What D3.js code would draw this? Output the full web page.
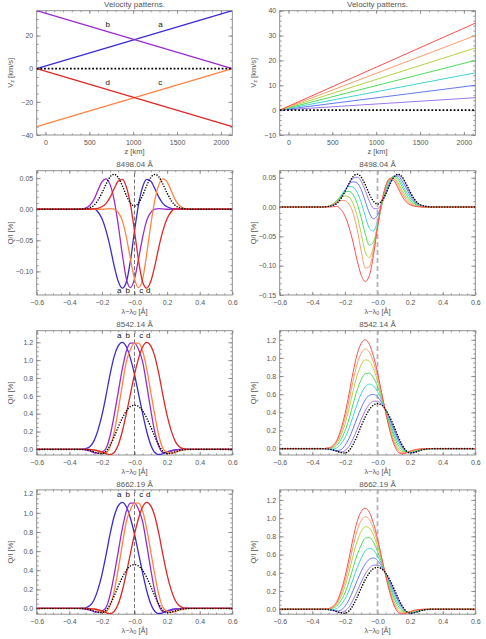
<!DOCTYPE html>
<html>
<head>
<meta charset="utf-8">
<script src="https://cdn.jsdelivr.net/npm/d3@7"></script>
<style>
  body { margin: 0; background: #fff; }
  svg { display: block; }
  text { font-family: "Liberation Sans", Arial, sans-serif; }
  .tick text { fill: #555; font-size: 7px; font-family: "Liberation Sans", Arial, sans-serif; }
  .tick line { stroke: #808080; stroke-width: 0.8; }
  .ttl { fill: #555; font-size: 8px; }
  .axl { fill: #555; font-size: 7.5px; }
  .lab { fill: #111; font-size: 8px; }
</style>
</head>
<body>
<div id="chart"></div>
<script>
// wavelength grid shared by every Q/I profile (offset from line centre, Å)
var WL = [-0.6, -0.35, -0.325, -0.3, -0.275, -0.25, -0.225, -0.2, -0.175, -0.15, -0.125, -0.1, -0.075, -0.05, -0.025,
  0, 0.025, 0.05, 0.075, 0.1, 0.125, 0.15, 0.175, 0.2, 0.225, 0.25, 0.275, 0.3, 0.325, 0.35, 0.6];

// velocity models: V_z [km/s] at bottom and top of the atmosphere
var Z_KM = [-100, 2130];
var VZ_REF = [0, 0];
var VZ_A = [0, 35];
var VZ_B = [35, 0];
var VZ_C = [-35, 0];
var VZ_D = [0, -35];
var VZ_RAMP = [[0, 5], [0, 10], [0, 15], [0, 20], [0, 25], [0, 30], [0, 35]];

// labels
var ABCD = ["a", "b", "c", "d"];
var TOP_LABEL_Z = [1310, 710, 1310, 710];
var TOP_LABEL_V = [25, 25, -10, -10];
var PROF_LABEL_X = [-0.093, -0.042, 0.042, 0.085];
var Z_TICKS = [0, 500, 1000, 1500, 2000];
var Z_TICK_LABELS = ["0", "500", "1000", "1500", "2000"];
var WL_TICKS = [-0.6, -0.4, -0.2, 0, 0.2, 0.4, 0.6];
var WL_TICK_LABELS = ["\u22120.6", "\u22120.4", "\u22120.2", "\u22120.0", "0.2", "0.4", "0.6"];

// 8498.04 Å  Q/I [%]
var Q8498_REF = [0, 0, 0.0003, 0.001, 0.0025, 0.006, 0.014, 0.026, 0.040, 0.052, 0.056, 0.051, 0.038, 0.022, 0.010, 0.005, 0.010, 0.022, 0.038, 0.051, 0.056, 0.052, 0.040, 0.026, 0.014, 0.006, 0.0025, 0.001, 0.0003, 0, 0];
var Q8498_A = [0, 0, 0, 0, 0.0005, 0.001, -0.004, -0.015, -0.034, -0.060, -0.091, -0.116, -0.127, -0.117, -0.083, -0.035, 0.008, 0.036, 0.048, 0.045, 0.033, 0.019, 0.009, 0.004, 0.0015, 0.0005, 0, 0, 0, 0, 0];
var Q8498_B = [0, 0, 0.0005, 0.002, 0.006, 0.015, 0.030, 0.044, 0.049, 0.040, 0.015, -0.025, -0.072, -0.112, -0.126, -0.112, -0.080, -0.045, -0.018, -0.005, 0, 0.001, 0.0005, 0, 0, 0, 0, 0, 0, 0, 0];
var Q8498_C = [0, 0, 0, 0, 0, 0, 0, 0, 0.0005, 0.001, 0, -0.005, -0.018, -0.045, -0.080, -0.112, -0.126, -0.112, -0.072, -0.025, 0.015, 0.040, 0.049, 0.044, 0.030, 0.015, 0.006, 0.002, 0.0005, 0, 0];
var Q8498_D = [0, 0, 0, 0, 0, 0.0005, 0.0015, 0.004, 0.009, 0.019, 0.033, 0.045, 0.048, 0.036, 0.008, -0.035, -0.083, -0.117, -0.127, -0.116, -0.091, -0.060, -0.034, -0.015, -0.004, 0.001, 0.0005, 0, 0, 0, 0];
var Q8498_V5 = [0, 0, 0.0003, 0.001, 0.003, 0.007, 0.015, 0.027, 0.040, 0.049, 0.051, 0.044, 0.028, 0.010, -0.002, -0.003, 0.006, 0.021, 0.038, 0.051, 0.055, 0.050, 0.038, 0.024, 0.013, 0.006, 0.0025, 0.001, 0.0003, 0, 0];
var Q8498_V10 = [0, 0, 0.0003, 0.001, 0.003, 0.008, 0.016, 0.028, 0.039, 0.043, 0.041, 0.030, 0.010, -0.010, -0.020, -0.014, 0.004, 0.024, 0.041, 0.052, 0.053, 0.045, 0.033, 0.020, 0.010, 0.004, 0.0015, 0.0005, 0, 0, 0];
var Q8498_V15 = [0, 0, 0.0003, 0.001, 0.004, 0.010, 0.019, 0.029, 0.035, 0.034, 0.025, 0.008, -0.015, -0.036, -0.041, -0.024, 0.003, 0.027, 0.044, 0.053, 0.050, 0.040, 0.027, 0.016, 0.008, 0.003, 0.001, 0.0003, 0, 0, 0];
var Q8498_V20 = [0, 0, 0.0003, 0.0015, 0.005, 0.011, 0.019, 0.025, 0.027, 0.021, 0.006, -0.018, -0.046, -0.065, -0.060, -0.032, 0.002, 0.030, 0.047, 0.052, 0.047, 0.035, 0.022, 0.012, 0.006, 0.002, 0.0007, 0.0002, 0, 0, 0];
var Q8498_V25 = [0, 0, 0.0003, 0.0015, 0.005, 0.010, 0.016, 0.019, 0.017, 0.006, -0.015, -0.045, -0.077, -0.086, -0.068, -0.033, 0.004, 0.033, 0.048, 0.050, 0.042, 0.029, 0.017, 0.009, 0.004, 0.0015, 0.0005, 0, 0, 0, 0];
var Q8498_V30 = [0, 0, 0.0003, 0.001, 0.004, 0.008, 0.011, 0.011, 0.005, -0.010, -0.038, -0.075, -0.104, -0.102, -0.074, -0.034, 0.006, 0.035, 0.049, 0.048, 0.038, 0.024, 0.013, 0.006, 0.0025, 0.001, 0, 0, 0, 0, 0];

// 8542.14 Å  Q/I [%]
var Q8542_REF = [0, 0, -0.001, -0.005, -0.013, -0.028, -0.043, -0.048, -0.022, 0.045, 0.14, 0.25, 0.35, 0.43, 0.48, 0.495, 0.48, 0.43, 0.35, 0.25, 0.14, 0.045, -0.022, -0.048, -0.043, -0.028, -0.013, -0.005, -0.001, 0, 0];
var Q8542_A = [0, 0, 0.002, 0.008, 0.03, 0.09, 0.21, 0.38, 0.60, 0.84, 1.04, 1.16, 1.20, 1.15, 1.02, 0.84, 0.62, 0.40, 0.20, 0.05, -0.035, -0.058, -0.048, -0.028, -0.013, -0.005, -0.001, 0, 0, 0, 0];
var Q8542_B = [0, 0, -0.001, -0.006, -0.018, -0.035, -0.042, -0.030, 0.01, 0.15, 0.38, 0.64, 0.90, 1.10, 1.19, 1.19, 1.12, 0.98, 0.72, 0.44, 0.19, 0.03, -0.035, -0.038, -0.022, -0.009, -0.003, 0, 0, 0, 0];
var Q8542_C = [0, 0, 0, 0, -0.003, -0.009, -0.022, -0.038, -0.035, 0.03, 0.19, 0.44, 0.72, 0.98, 1.12, 1.19, 1.19, 1.10, 0.90, 0.64, 0.38, 0.15, 0.01, -0.030, -0.042, -0.035, -0.018, -0.006, -0.001, 0, 0];
var Q8542_D = [0, 0, 0, 0, -0.001, -0.005, -0.013, -0.028, -0.048, -0.058, -0.035, 0.05, 0.20, 0.40, 0.62, 0.84, 1.02, 1.15, 1.20, 1.16, 1.04, 0.84, 0.60, 0.38, 0.21, 0.09, 0.03, 0.008, 0.002, 0, 0];
var Q8542_V5 = [0, 0, -0.002, -0.005, -0.014, -0.030, -0.038, -0.022, 0.024, 0.109, 0.212, 0.323, 0.418, 0.488, 0.523, 0.523, 0.491, 0.428, 0.338, 0.234, 0.126, 0.037, -0.024, -0.046, -0.041, -0.026, -0.012, -0.005, -0.001, 0, 0];
var Q8542_V10 = [0, 0, -0.001, -0.005, -0.013, -0.022, -0.012, 0.035, 0.112, 0.220, 0.338, 0.450, 0.537, 0.588, 0.599, 0.571, 0.511, 0.423, 0.317, 0.206, 0.102, 0.022, -0.028, -0.044, -0.036, -0.023, -0.010, -0.004, -0.001, 0, 0];
var Q8542_V15 = [0, 0, 0, -0.002, -0.004, 0.008, 0.050, 0.119, 0.221, 0.355, 0.491, 0.605, 0.682, 0.711, 0.691, 0.630, 0.535, 0.418, 0.292, 0.172, 0.072, 0.005, -0.032, -0.040, -0.031, -0.019, -0.008, -0.003, 0, 0, 0];
var Q8542_V20 = [0, 0, 0.001, 0.002, 0.011, 0.038, 0.099, 0.192, 0.326, 0.490, 0.644, 0.760, 0.826, 0.833, 0.782, 0.688, 0.558, 0.413, 0.266, 0.138, 0.042, -0.013, -0.037, -0.037, -0.026, -0.015, -0.006, -0.002, 0, 0, 0];
var Q8542_V25 = [0, 0, 0.001, 0.005, 0.019, 0.059, 0.144, 0.269, 0.438, 0.633, 0.806, 0.923, 0.979, 0.963, 0.880, 0.750, 0.584, 0.408, 0.239, 0.102, 0.011, -0.031, -0.041, -0.033, -0.021, -0.011, -0.004, -0.001, 0, 0, 0];
var Q8542_V30 = [0, 0, 0.002, 0.006, 0.025, 0.076, 0.180, 0.329, 0.525, 0.745, 0.932, 1.051, 1.098, 1.064, 0.955, 0.799, 0.603, 0.404, 0.218, 0.074, -0.014, -0.046, -0.045, -0.030, -0.017, -0.008, -0.002, 0, 0, 0, 0];

// 8662.19 Å  Q/I [%]
var Q8662_REF = [0, 0, -0.001, -0.005, -0.012, -0.026, -0.040, -0.044, -0.020, 0.042, 0.130, 0.231, 0.324, 0.398, 0.444, 0.458, 0.444, 0.398, 0.324, 0.231, 0.130, 0.042, -0.020, -0.044, -0.040, -0.026, -0.012, -0.005, -0.001, 0, 0];
var Q8662_A = [0, 0, 0.002, 0.007, 0.028, 0.083, 0.194, 0.352, 0.555, 0.777, 0.962, 1.073, 1.110, 1.064, 0.944, 0.777, 0.574, 0.370, 0.185, 0.046, -0.032, -0.054, -0.044, -0.026, -0.012, -0.005, -0.001, 0, 0, 0, 0];
var Q8662_B = [0, 0, -0.001, -0.006, -0.017, -0.032, -0.039, -0.028, 0.009, 0.139, 0.352, 0.592, 0.833, 1.018, 1.101, 1.101, 1.036, 0.907, 0.666, 0.407, 0.176, 0.028, -0.032, -0.035, -0.020, -0.008, -0.003, 0, 0, 0, 0];
var Q8662_C = [0, 0, 0, 0, -0.003, -0.008, -0.020, -0.035, -0.032, 0.028, 0.176, 0.407, 0.666, 0.907, 1.036, 1.101, 1.101, 1.018, 0.833, 0.592, 0.352, 0.139, 0.009, -0.028, -0.039, -0.032, -0.017, -0.006, -0.001, 0, 0];
var Q8662_D = [0, 0, 0, 0, -0.001, -0.005, -0.012, -0.026, -0.044, -0.054, -0.032, 0.046, 0.185, 0.370, 0.574, 0.777, 0.944, 1.064, 1.110, 1.073, 0.962, 0.777, 0.555, 0.352, 0.194, 0.083, 0.028, 0.007, 0.002, 0, 0];
var Q8662_V5 = [0, 0, -0.002, -0.005, -0.013, -0.028, -0.035, -0.020, 0.022, 0.101, 0.196, 0.299, 0.387, 0.451, 0.484, 0.484, 0.454, 0.396, 0.313, 0.216, 0.117, 0.034, -0.022, -0.043, -0.038, -0.024, -0.011, -0.005, -0.001, 0, 0];
var Q8662_V10 = [0, 0, -0.001, -0.005, -0.012, -0.020, -0.011, 0.032, 0.104, 0.204, 0.313, 0.416, 0.497, 0.548, 0.562, 0.535, 0.473, 0.391, 0.293, 0.191, 0.094, 0.020, -0.026, -0.041, -0.033, -0.021, -0.009, -0.004, -0.001, 0, 0];
var Q8662_V15 = [0, 0, 0, -0.002, -0.004, 0.007, 0.046, 0.110, 0.204, 0.328, 0.454, 0.560, 0.640, 0.668, 0.648, 0.583, 0.495, 0.387, 0.270, 0.159, 0.067, 0.005, -0.030, -0.037, -0.029, -0.018, -0.007, -0.003, 0, 0, 0];
var Q8662_V20 = [0, 0, 0.001, 0.002, 0.010, 0.035, 0.092, 0.178, 0.302, 0.453, 0.596, 0.703, 0.780, 0.787, 0.735, 0.636, 0.516, 0.382, 0.246, 0.128, 0.039, -0.012, -0.034, -0.034, -0.024, -0.014, -0.006, -0.002, 0, 0, 0];
var Q8662_V25 = [0, 0, 0.001, 0.005, 0.018, 0.055, 0.133, 0.249, 0.405, 0.586, 0.746, 0.854, 0.906, 0.891, 0.814, 0.694, 0.540, 0.377, 0.221, 0.094, 0.010, -0.029, -0.038, -0.031, -0.019, -0.010, -0.004, -0.001, 0, 0, 0];
var Q8662_V30 = [0, 0, 0.002, 0.006, 0.023, 0.070, 0.167, 0.304, 0.486, 0.689, 0.862, 0.972, 1.016, 0.984, 0.883, 0.739, 0.558, 0.374, 0.202, 0.068, -0.013, -0.043, -0.042, -0.028, -0.016, -0.007, -0.002, 0, 0, 0, 0];

var ABCD_COLORS = ["#3a2ad4", "#9a2ccc", "#ff8443", "#e02626"];
var RAMP_COLORS = ["#9a78e6", "#6478f5", "#42d2d2", "#4cdc5c", "#b4d244", "#fb9c6c", "#fa5050"];

var W = 486, H = 639;
var colX = [36.7, 279.7];
var rowY = [10.7, 170.7, 330.7, 489.9];
var pw = 195.6, ph = 124.3;

var svg = d3.select("#chart").append("svg")
    .attr("width", W)
    .attr("height", H);

function minorTicks(domain, step) {
  var lo = Math.ceil(domain[0] / step - 1e-9), hi = Math.floor(domain[1] / step + 1e-9);
  return d3.range(lo, hi + 1).map(function(i) { return +(i * step).toFixed(6); });
}

function panel(col, row, o) {
  var g = svg.append("g")
      .attr("transform", "translate(" + colX[col] + "," + rowY[row] + ")");

  var x = d3.scaleLinear().domain(o.xDomain).range([0, pw]);
  var y = d3.scaleLinear().domain(o.yDomain).range([ph, 0]);

  var id = "clip" + col + "_" + row;
  g.append("clipPath").attr("id", id)
    .append("rect").attr("width", pw).attr("height", ph);

  var xMin = minorTicks(o.xDomain, o.xMinor);
  var yMin = minorTicks(o.yDomain, o.yMinor);

  // ticks on all four sides, pointing inward (IDL style)
  g.append("g").attr("transform", "translate(0," + ph + ")")
      .call(d3.axisBottom(x).tickValues(xMin).tickSize(-1.6).tickSizeOuter(0).tickFormat(""));
  g.append("g").attr("transform", "translate(0," + ph + ")")
      .call(d3.axisBottom(x).tickValues(o.xTicks).tickSize(-3.2).tickSizeOuter(0).tickPadding(4.8)
        .tickFormat(function(d, i) { return o.xLabels[i]; }));
  g.append("g")
      .call(d3.axisTop(x).tickValues(xMin).tickSize(-1.6).tickSizeOuter(0).tickFormat(""));
  g.append("g")
      .call(d3.axisTop(x).tickValues(o.xTicks).tickSize(-3.2).tickSizeOuter(0).tickFormat(""));

  g.append("g")
      .call(d3.axisLeft(y).tickValues(yMin).tickSize(-2).tickSizeOuter(0).tickFormat(""));
  g.append("g")
      .call(d3.axisLeft(y).tickValues(o.yTicks).tickSize(-4).tickSizeOuter(0).tickPadding(3.5)
        .tickFormat(d3.format(o.yFormat)));
  g.append("g").attr("transform", "translate(" + pw + ",0)")
      .call(d3.axisRight(y).tickValues(yMin).tickSize(-2).tickSizeOuter(0).tickFormat(""));
  g.append("g").attr("transform", "translate(" + pw + ",0)")
      .call(d3.axisRight(y).tickValues(o.yTicks).tickSize(-4).tickSizeOuter(0).tickFormat(""));

  g.selectAll(".domain").remove();

  g.append("rect")
      .attr("width", pw).attr("height", ph)
      .attr("fill", "none").attr("stroke", "#858585").attr("stroke-width", 0.9);

  g.append("text").attr("class", "ttl")
      .attr("x", pw / 2).attr("y", -3.4)
      .attr("text-anchor", "middle")
      .text(o.title);

  var xl = g.append("text").attr("class", "axl")
      .attr("x", pw / 2).attr("y", ph + 18.6)
      .attr("text-anchor", "middle");
  o.xTitle(xl);

  var yl = g.append("text").attr("class", "axl")
      .attr("transform", "translate(-24.2," + (ph / 2) + ") rotate(-90)")
      .attr("text-anchor", "middle");
  o.yTitle(yl);

  var plot = g.append("g").attr("clip-path", "url(#" + id + ")");
  return { g: g, plot: plot, x: x, y: y };
}

function vzTitle(t) {
  t.append("tspan").text("V");
  t.append("tspan").attr("font-size", "5.5px").attr("dy", 1.6).text("z");
  t.append("tspan").attr("dy", -1.6).text(" [km/s]");
}
function zTitle(t) { t.text("z [km]"); }
function wlTitle(t) {
  t.append("tspan").text("\u03bb\u2212\u03bb");
  t.append("tspan").attr("font-size", "5.5px").attr("dy", 1.6).text("0");
  t.append("tspan").attr("dy", -1.6).text(" [\u00c5]");
}
function qTitle(t) { t.text("Q/I [%]"); }

// ---- top row: velocity patterns ----
function velLine(p) {
  return d3.line()
    .x(function(d) { return p.x(d[0]); })
    .y(function(d) { return p.y(d[1]); });
}
function zip(zs, vs) { return zs.map(function(z, i) { return [z, vs[i]]; }); }

var velOpts = {
  title: "Velocity patterns.",
  xDomain: [-100, 2130], xTicks: Z_TICKS, xLabels: Z_TICK_LABELS, xMinor: 100,
  xTitle: zTitle, yTitle: vzTitle, yFormat: "d"
};

var pL = panel(0, 0, Object.assign({}, velOpts, { yDomain: [-40, 35], yTicks: [-40, -20, 0, 20], yMinor: 5 }));
[VZ_A, VZ_B, VZ_C, VZ_D].forEach(function(v, i) {
  pL.plot.append("path")
      .datum(zip(Z_KM, v))
      .attr("d", velLine(pL))
      .attr("fill", "none")
      .attr("stroke", ABCD_COLORS[i])
      .attr("stroke-width", 1.3);
});
pL.plot.append("path")
    .datum(zip(Z_KM, VZ_REF))
    .attr("d", velLine(pL))
    .attr("fill", "none").attr("stroke", "#000")
    .attr("stroke-width", 1.8).attr("stroke-dasharray", "1.8,1.9");
pL.g.selectAll(".lab").data(ABCD).enter().append("text")
    .attr("class", "lab")
    .attr("x", function(d, i) { return pL.x(TOP_LABEL_Z[i]); })
    .attr("y", function(d, i) { return pL.y(TOP_LABEL_V[i]); })
    .attr("text-anchor", "middle")
    .text(function(d) { return d; });

var pR = panel(1, 0, Object.assign({}, velOpts, { yDomain: [-10, 40], yTicks: [-10, 0, 10, 20, 30, 40], yMinor: 2 }));
VZ_RAMP.forEach(function(v, i) {
  pR.plot.append("path")
      .datum(zip(Z_KM, v))
      .attr("d", velLine(pR))
      .attr("fill", "none")
      .attr("stroke", RAMP_COLORS[i])
      .attr("stroke-width", 1);
});
pR.plot.append("path")
    .datum(zip(Z_KM, VZ_REF))
    .attr("d", velLine(pR))
    .attr("fill", "none").attr("stroke", "#000")
    .attr("stroke-width", 1.8).attr("stroke-dasharray", "1.8,1.9");

// ---- profile rows ----
var lines = [
  { title: "8498.04 \u00c5", ref: Q8498_REF, abcd: [Q8498_A, Q8498_B, Q8498_C, Q8498_D],
    ramp: [Q8498_V5, Q8498_V10, Q8498_V15, Q8498_V20, Q8498_V25, Q8498_V30, Q8498_A],
    yL: [-0.138, 0.062], yR: [-0.15, 0.062], ticksL: [-0.10, -0.05, 0, 0.05], ticksR: [-0.15, -0.10, -0.05, 0, 0.05],
    minor: 0.01, fmt: ".2f", labelTop: false },
  { title: "8542.14 \u00c5", ref: Q8542_REF, abcd: [Q8542_A, Q8542_B, Q8542_C, Q8542_D],
    ramp: [Q8542_V5, Q8542_V10, Q8542_V15, Q8542_V20, Q8542_V25, Q8542_V30, Q8542_A],
    yL: [-0.063, 1.33], yR: [-0.07, 1.30], ticksL: [0, 0.2, 0.4, 0.6, 0.8, 1.0, 1.2], ticksR: [0, 0.2, 0.4, 0.6, 0.8, 1.0, 1.2],
    minor: 0.05, fmt: ".1f", labelTop: true },
  { title: "8662.19 \u00c5", ref: Q8662_REF, abcd: [Q8662_A, Q8662_B, Q8662_C, Q8662_D],
    ramp: [Q8662_V5, Q8662_V10, Q8662_V15, Q8662_V20, Q8662_V25, Q8662_V30, Q8662_A],
    yL: [-0.06, 1.24], yR: [-0.055, 1.31], ticksL: [0, 0.2, 0.4, 0.6, 0.8, 1.0, 1.2], ticksR: [0, 0.2, 0.4, 0.6, 0.8, 1.0, 1.2],
    minor: 0.05, fmt: ".1f", labelTop: true }
];

function profLine(p) {
  return d3.line()
    .x(function(d) { return p.x(d[0]); })
    .y(function(d) { return p.y(d[1]); })
    .curve(d3.curveMonotoneX);
}

function centreLine(p, stroke, width, dash) {
  p.plot.append("path")
      .datum([[0, p.y.domain()[0]], [0, p.y.domain()[1]]])
      .attr("d", d3.line().x(function(d) { return p.x(d[0]); }).y(function(d) { return p.y(d[1]); }))
      .attr("fill", "none").attr("stroke", stroke)
      .attr("stroke-width", width).attr("stroke-dasharray", dash);
}

function refDots(p, vals) {
  p.plot.append("path")
      .datum(zip(WL, vals))
      .attr("d", profLine(p))
      .attr("fill", "none").attr("stroke", "#000")
      .attr("stroke-width", 1.6).attr("stroke-linecap", "round")
      .attr("stroke-dasharray", "0,2.7");
}

lines.forEach(function(L, r) {
  var base = {
    title: L.title, xDomain: [-0.6, 0.6], xTicks: WL_TICKS, xLabels: WL_TICK_LABELS, xMinor: 0.05,
    xTitle: wlTitle, yTitle: qTitle, yFormat: L.fmt, yMinor: L.minor
  };

  var a = panel(0, r + 1, Object.assign({}, base, { yDomain: L.yL, yTicks: L.ticksL }));
  centreLine(a, "#3a3a3a", 0.7, "4,2.2");
  L.abcd.forEach(function(v, i) {
    a.plot.append("path")
        .datum(zip(WL, v))
        .attr("d", profLine(a))
        .attr("fill", "none")
        .attr("stroke", ABCD_COLORS[i])
        .attr("stroke-width", 1.3);
  });
  refDots(a, L.ref);
  a.g.selectAll(".lab").data(ABCD).enter().append("text")
      .attr("class", "lab")
      .attr("x", function(d, i) { return a.x(PROF_LABEL_X[i]); })
      .attr("y", L.labelTop ? 6.8 : ph - 2.3)
      .attr("text-anchor", "middle")
      .text(function(d) { return d; });

  var b = panel(1, r + 1, Object.assign({}, base, { yDomain: L.yR, yTicks: L.ticksR }));
  centreLine(b, "#b4b4b4", 1.8, "5,3");
  L.ramp.forEach(function(v, i) {
    b.plot.append("path")
        .datum(zip(WL, v))
        .attr("d", profLine(b))
        .attr("fill", "none")
        .attr("stroke", RAMP_COLORS[i])
        .attr("stroke-width", 1);
  });
  refDots(b, L.ref);
});
</script>
</body>
</html>
